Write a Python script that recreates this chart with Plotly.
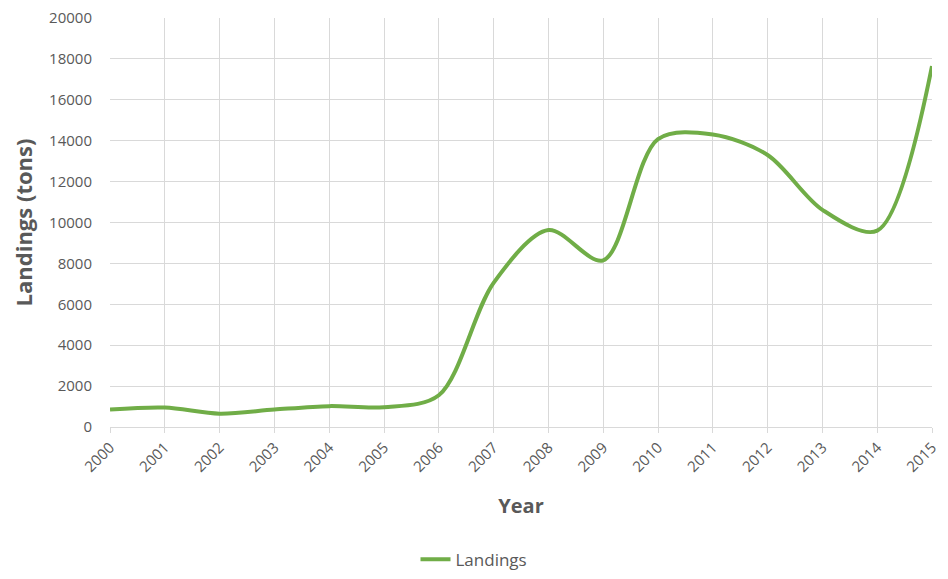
import plotly.graph_objects as go

years = list(range(2000, 2016))
landings = [850, 950, 650, 850, 1020, 970, 1550, 7050, 9630, 8150, 14080, 14300, 13300, 10620, 9600, 17650]
y_ticks = list(range(0, 20001, 2000))

fig = go.Figure()
fig.add_trace(go.Scatter(
    x=years, y=landings, mode="lines", name="Landings",
    line=dict(color="#70ad47", width=4, shape="spline", smoothing=0.9),
))

font_family = "Open Sans, sans-serif"
# page body has an 8px margin, so the figure is sized/offset to fit inside it
fig.update_layout(
    width=932, height=563,
    margin=dict(l=102, r=8, t=10, b=144),
    paper_bgcolor="white", plot_bgcolor="white",
    font=dict(family=font_family, color="#595959", size=15),
    showlegend=True,
    legend=dict(orientation="h", x=0.5, xanchor="center", xref="container",
                y=0.02, yanchor="middle", yref="container",
                font=dict(size=17, color="#595959")),
    xaxis=dict(
        range=[2000, 2015], tickmode="array", tickvals=years,
        ticktext=[str(y) for y in years], tickangle=-45,
        showgrid=True, gridcolor="#d9d9d9", gridwidth=1,
        showline=True, linecolor="#d9d9d9", linewidth=1,
        ticks="outside", ticklen=5, tickcolor="#d9d9d9",
        tickfont=dict(size=15, color="#595959"),
        ticklabelstandoff=0, ticklabeloverflow="allow",
        title=dict(text="<b>Year</b>", font=dict(size=20, color="#595959"), standoff=24),
        zeroline=False, automargin=False,
    ),
    yaxis=dict(
        range=[0, 20000], tickmode="array", tickvals=y_ticks,
        ticktext=[str(v) for v in y_ticks],
        showgrid=True, gridcolor="#d9d9d9", gridwidth=1,
        showline=False, zeroline=False,
        tickfont=dict(size=15, color="#595959"),
        ticks="", ticklabelstandoff=17, ticklabeloverflow="allow",
        title=dict(text="<b>Landings (tons)</b>", font=dict(size=22, color="#595959"), standoff=18),
        automargin=False,
    ),
)

fig.write_html("out.html")
